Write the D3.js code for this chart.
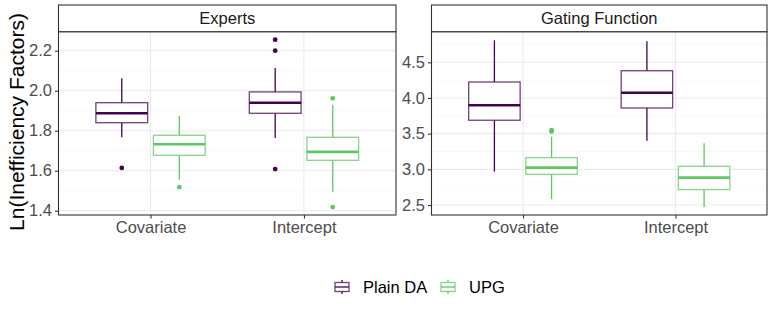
<!DOCTYPE html>
<html>
<head>
<meta charset="utf-8">
<script src="https://cdn.jsdelivr.net/npm/d3@7"></script>
<style>
  body { margin: 0; background: #fff; }
  svg text { font-family: "Liberation Sans", Arial, sans-serif; }
</style>
</head>
<body>
<div id="chart"></div>
<script>

//******************************************************************************
//**  Data
//******************************************************************************
var panels = ["Experts", "Gating Function"];
var categories = ["Covariate", "Intercept"];
var groups = ["Plain DA", "UPG"];
var groupColors = ["#440154", "#5DC863"];

//five number summaries: [lower whisker, q1, median, q3, upper whisker]
var expertsPlain = [[1.767, 1.840, 1.887, 1.940, 2.062], [1.764, 1.887, 1.940, 1.994, 2.114]];
var expertsUPG   = [[1.555, 1.677, 1.732, 1.777, 1.874], [1.495, 1.652, 1.694, 1.767, 1.930]];
var gatingPlain  = [[2.968, 3.688, 3.898, 4.224, 4.808], [3.402, 3.860, 4.074, 4.382, 4.794]];
var gatingUPG    = [[2.581, 2.931, 3.024, 3.164, 3.458], [2.473, 2.716, 2.884, 3.043, 3.366]];

//outliers per category
var expertsPlainOut = [[1.614], [1.608, 2.200, 2.255]];
var expertsUPGOut   = [[1.518], [1.418, 1.962]];
var gatingPlainOut  = [[], []];
var gatingUPGOut    = [[3.530, 3.548], []];

var expertsTicks = [1.4, 1.6, 1.8, 2.0, 2.2];
var gatingTicks = [2.5, 3.0, 3.5, 4.0, 4.5];
var expertsDomain = [1.3785, 2.295];
var gatingDomain = [2.36, 4.929];


//******************************************************************************
//**  Layout
//******************************************************************************
var width = 775, height = 310;
var stripTop = 5, stripBottom = 31.7, plotBottom = 215;
var panelX = [[58.5, 396], [431.5, 767]];

var svg = d3.select("#chart").append("svg")
    .attr("width", width)
    .attr("height", height);

var panelData = [
    {title: panels[0], stats: [expertsPlain, expertsUPG], out: [expertsPlainOut, expertsUPGOut],
     ticks: expertsTicks, domain: expertsDomain, fmt: d3.format(".1f")},
    {title: panels[1], stats: [gatingPlain, gatingUPG], out: [gatingPlainOut, gatingUPGOut],
     ticks: gatingTicks, domain: gatingDomain, fmt: d3.format(".1f")}
];


//**************************************************************************
//** drawPanel
//**************************************************************************
var drawPanel = function(p, i){
    var x0 = panelX[i][0], x1 = panelX[i][1];

    var x = d3.scalePoint()
        .domain(categories)
        .range([x0, x1])
        .padding(0.6);

    var y = d3.scaleLinear()
        .domain(p.domain)
        .range([plotBottom, stripBottom]);

    var step = x.step();
    var offset = step*0.1875;
    var halfWidth = step*0.16875;

    var g = svg.append("g");

  //Minor grid
    var minor = [];
    for (var k=0; k<p.ticks.length-1; k++) minor.push((p.ticks[k]+p.ticks[k+1])/2);
    minor.push(p.ticks[p.ticks.length-1] + (p.ticks[1]-p.ticks[0])/2);
    g.selectAll(".minor").data(minor.filter(function(d){
        return d>p.domain[0] && d<p.domain[1];
    })).enter().append("line")
        .attr("x1", x0).attr("x2", x1)
        .attr("y1", function(d){ return y(d); })
        .attr("y2", function(d){ return y(d); })
        .style("stroke", "#f2f2f2")
        .style("stroke-width", 0.55);

  //Major grid
    g.selectAll(".major").data(p.ticks).enter().append("line")
        .attr("x1", x0).attr("x2", x1)
        .attr("y1", function(d){ return y(d); })
        .attr("y2", function(d){ return y(d); })
        .style("stroke", "#ebebeb")
        .style("stroke-width", 1.1);

    g.selectAll(".vgrid").data(categories).enter().append("line")
        .attr("x1", function(d){ return x(d); })
        .attr("x2", function(d){ return x(d); })
        .attr("y1", stripBottom).attr("y2", plotBottom)
        .style("stroke", "#ebebeb")
        .style("stroke-width", 1.1);

  //Boxes
    p.stats.forEach(function(series, s){
        var color = groupColors[s];
        var dx = s===0 ? -offset : offset;
        series.forEach(function(st, c){
            var cx = x(categories[c]) + dx;
            var bg = g.append("g");

            bg.append("line")
                .attr("x1", cx).attr("x2", cx)
                .attr("y1", y(st[4])).attr("y2", y(st[3]))
                .style("stroke", color).style("stroke-width", 1.3);
            bg.append("line")
                .attr("x1", cx).attr("x2", cx)
                .attr("y1", y(st[1])).attr("y2", y(st[0]))
                .style("stroke", color).style("stroke-width", 1.3);

            bg.append("rect")
                .attr("x", cx-halfWidth)
                .attr("y", y(st[3]))
                .attr("width", halfWidth*2)
                .attr("height", y(st[1])-y(st[3]))
                .style("fill", "#fff")
                .style("stroke", color)
                .style("stroke-opacity", 0.75)
                .style("stroke-width", 1.3);

            bg.append("line")
                .attr("x1", cx-halfWidth).attr("x2", cx+halfWidth)
                .attr("y1", y(st[2])).attr("y2", y(st[2]))
                .style("stroke", color).style("stroke-width", 2.6);

            bg.selectAll("circle").data(p.out[s][c]).enter().append("circle")
                .attr("cx", cx)
                .attr("cy", function(d){ return y(d); })
                .attr("r", 2.4)
                .style("fill", color);
        });
    });

  //Panel border
    g.append("rect")
        .attr("x", x0).attr("y", stripBottom)
        .attr("width", x1-x0).attr("height", plotBottom-stripBottom)
        .style("fill", "none")
        .style("stroke", "#333")
        .style("stroke-width", 1.1);

  //Strip
    g.append("rect")
        .attr("x", x0).attr("y", stripTop)
        .attr("width", x1-x0).attr("height", stripBottom-stripTop)
        .style("fill", "#fff")
        .style("stroke", "#333")
        .style("stroke-width", 1.1);
    g.append("text")
        .attr("x", (x0+x1)/2)
        .attr("y", (stripTop+stripBottom)/2)
        .attr("dy", "0.35em")
        .attr("text-anchor", "middle")
        .style("font-size", "16.5px")
        .style("fill", "#1a1a1a")
        .text(p.title);

  //Axes
    var yAxis = d3.axisLeft(y)
        .tickValues(p.ticks)
        .tickFormat(p.fmt)
        .tickSize(3.5)
        .tickPadding(3);
    var ya = g.append("g")
        .attr("transform", "translate(" + x0 + ",0)")
        .call(yAxis);

    var xAxis = d3.axisBottom(x)
        .tickSize(3.5)
        .tickPadding(3);
    var xa = g.append("g")
        .attr("transform", "translate(0," + plotBottom + ")")
        .call(xAxis);

    [ya, xa].forEach(function(a){
        a.select(".domain").remove();
        a.selectAll(".tick line").style("stroke", "#333").style("stroke-width", 1.1);
        a.selectAll(".tick text")
            .style("font-family", "Liberation Sans, Arial, sans-serif")
            .style("font-size", "16.5px")
            .style("fill", "#4d4d4d");
    });
};

panelData.forEach(drawPanel);


//******************************************************************************
//**  Y axis title
//******************************************************************************
svg.append("text")
    .attr("transform", "translate(17," + ((stripTop+plotBottom)/2+12) + ") rotate(-90)")
    .attr("text-anchor", "middle")
    .attr("dy", "0.35em")
    .style("font-size", "21px")
    .style("fill", "#000")
    .text("Ln(Inefficiency Factors)");


//******************************************************************************
//**  Legend
//******************************************************************************
var legendX = [342, 448];
var legendY = 287;
var legend = svg.append("g");
groups.forEach(function(name, i){
    var cx = legendX[i];
    var lg = legend.append("g");
    lg.append("line")
        .attr("x1", cx).attr("x2", cx)
        .attr("y1", legendY-7).attr("y2", legendY+7)
        .style("stroke", groupColors[i]).style("stroke-width", 1.3);
    lg.append("rect")
        .attr("x", cx-7).attr("y", legendY-4.5)
        .attr("width", 14).attr("height", 9)
        .style("fill", "#fff")
        .style("stroke", groupColors[i])
        .style("stroke-opacity", 0.75)
        .style("stroke-width", 1.3);
    lg.append("line")
        .attr("x1", cx-7).attr("x2", cx+7)
        .attr("y1", legendY).attr("y2", legendY)
        .style("stroke", groupColors[i]).style("stroke-width", 1.3);
    lg.append("text")
        .attr("x", cx+21)
        .attr("y", legendY)
        .attr("dy", "0.35em")
        .style("font-size", "16.5px")
        .style("fill", "#000")
        .text(name);
});

</script>
</body>
</html>
